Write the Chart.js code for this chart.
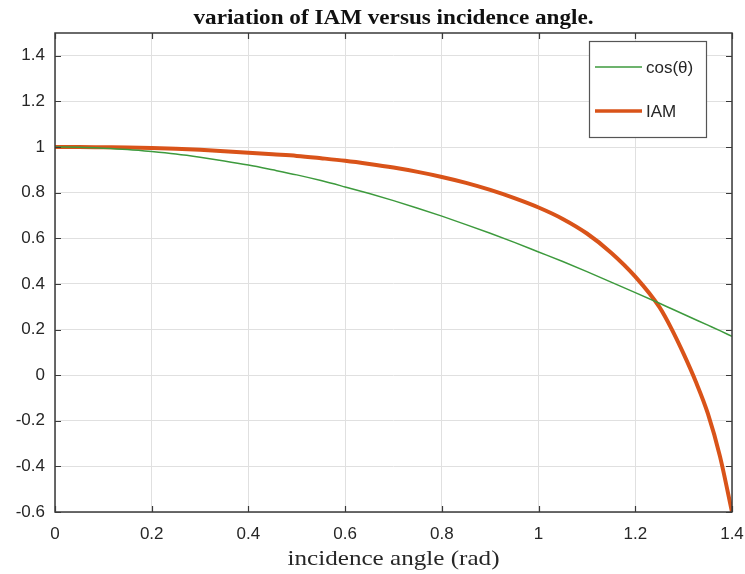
<!DOCTYPE html>
<html>
<head>
<meta charset="utf-8">
<script src="https://cdn.jsdelivr.net/npm/chart.js@4.4.1/dist/chart.umd.min.js"></script>
<style>
  html, body { margin: 0; padding: 0; background: #ffffff; }
  #wrap { width: 745px; height: 574px; position: relative; }
</style>
</head>
<body>
<div id="wrap"><canvas id="c" width="745" height="574"></canvas></div>
<script>
// ---- data ----
const chartTitle = "variation of IAM versus incidence angle.";
const xAxisTitle = "incidence angle (rad)";
const seriesNames = ["cos(θ)", "IAM"];
const angles = [0, 0.05, 0.1, 0.15, 0.2, 0.25, 0.3, 0.35, 0.4, 0.45, 0.5, 0.55, 0.6, 0.65, 0.7,
  0.75, 0.8, 0.85, 0.9, 0.95, 1.0, 1.05, 1.1, 1.15, 1.2, 1.25, 1.275, 1.3, 1.325, 1.35, 1.375, 1.4];
const cosValues = [1.000, 0.999, 0.995, 0.989, 0.980, 0.969, 0.955, 0.939, 0.921, 0.900, 0.878,
  0.853, 0.825, 0.796, 0.765, 0.732, 0.697, 0.660, 0.622, 0.582, 0.540, 0.498, 0.454, 0.408,
  0.362, 0.315, 0.291, 0.267, 0.243, 0.219, 0.195, 0.170];
const iamValues = [1.000, 1.000, 0.999, 0.998, 0.996, 0.993, 0.988, 0.982, 0.975, 0.968, 0.961,
  0.951, 0.940, 0.926, 0.910, 0.891, 0.869, 0.843, 0.812, 0.776, 0.735, 0.685, 0.621, 0.537,
  0.432, 0.298, 0.203, 0.093, -0.028, -0.168, -0.355, -0.600];
const xTicks = [0, 0.2, 0.4, 0.6, 0.8, 1.0, 1.2, 1.4];
const yTicks = [-0.6, -0.4, -0.2, 0, 0.2, 0.4, 0.6, 0.8, 1.0, 1.2, 1.4];
const xRange = [0, 1.4];
const yRange = [-0.6, 1.5];

// ---- styles ----
const GREEN = "#3d9a3d";
const ORANGE = "#d95319";
const AXIS = "#3a3a3a";
const TEXT = "#262626";
const GRID = "#e0e0e0";
const SANS = "'Liberation Sans', Arial, sans-serif";

const toPoints = (ys) => angles.map((a, i) => ({ x: a, y: ys[i] }));

function fitText(ctx, text, cx, y, targetWidth) {
  const w = ctx.measureText(text).width;
  const sx = targetWidth / w;
  ctx.save();
  ctx.translate(cx, y);
  ctx.scale(sx, 1);
  ctx.fillText(text, 0, 0);
  ctx.restore();
}

const framePlugin = {
  id: "frame",
  afterDraw(chart) {
    const { ctx, chartArea: a, scales } = chart;
    const xs = scales.x, ys = scales.y;
    ctx.save();
    // frame
    ctx.strokeStyle = AXIS;
    ctx.lineWidth = 1.5;
    ctx.strokeRect(a.left, a.top, a.right - a.left, a.bottom - a.top);
    // inward ticks on all four sides
    ctx.lineWidth = 1.2;
    const tl = 6;
    ctx.beginPath();
    xTicks.forEach(v => {
      const px = Math.round(xs.getPixelForValue(v)) + 0.5;
      ctx.moveTo(px, a.bottom); ctx.lineTo(px, a.bottom - tl);
      ctx.moveTo(px, a.top); ctx.lineTo(px, a.top + tl);
    });
    yTicks.forEach(v => {
      const py = Math.round(ys.getPixelForValue(v)) + 0.5;
      ctx.moveTo(a.left, py); ctx.lineTo(a.left + tl, py);
      ctx.moveTo(a.right, py); ctx.lineTo(a.right - tl, py);
    });
    ctx.stroke();

    // title
    const cx = (a.left + a.right) / 2;
    ctx.fillStyle = "#111";
    ctx.textAlign = "center";
    ctx.textBaseline = "alphabetic";
    ctx.font = "bold 20px 'Liberation Serif', 'DejaVu Serif', serif";
    fitText(ctx, chartTitle, cx, 24, 400);
    // x axis title
    ctx.fillStyle = TEXT;
    ctx.font = "22px 'Liberation Serif', 'DejaVu Serif', serif";
    fitText(ctx, xAxisTitle, cx, 565, 212);

    // legend
    const lx = 589, ly = 41, lw = 117, lh = 96;
    ctx.fillStyle = "#ffffff";
    ctx.fillRect(lx, ly, lw, lh);
    ctx.strokeStyle = "#555555";
    ctx.lineWidth = 1.2;
    ctx.strokeRect(lx + 0.5, ly + 0.5, lw, lh);
    const items = [
      { name: seriesNames[0], color: GREEN, w: 1.5, y: 67 },
      { name: seriesNames[1], color: ORANGE, w: 3.5, y: 111 }
    ];
    ctx.font = "17px " + SANS;
    ctx.textAlign = "left";
    ctx.textBaseline = "middle";
    items.forEach(it => {
      ctx.strokeStyle = it.color;
      ctx.lineWidth = it.w;
      ctx.beginPath();
      ctx.moveTo(595, it.y); ctx.lineTo(642, it.y);
      ctx.stroke();
      ctx.fillStyle = TEXT;
      ctx.fillText(it.name, 646, it.y + 1);
    });
    ctx.restore();
  }
};

new Chart(document.getElementById("c"), {
  type: "line",
  data: {
    datasets: [
      { label: seriesNames[0], data: toPoints(cosValues), borderColor: GREEN, borderWidth: 1.5,
        pointRadius: 0, cubicInterpolationMode: "monotone", fill: false },
      { label: seriesNames[1], data: toPoints(iamValues), borderColor: ORANGE, borderWidth: 4,
        pointRadius: 0, cubicInterpolationMode: "monotone", fill: false }
    ]
  },
  options: {
    responsive: false,
    animation: false,
    devicePixelRatio: 1,
    layout: { padding: { top: 33, right: 13, left: 0, bottom: 0 } },
    plugins: { legend: { display: false }, title: { display: false }, tooltip: { enabled: false } },
    scales: {
      x: {
        type: "linear", min: xRange[0], max: xRange[1],
        afterBuildTicks: (s) => { s.ticks = xTicks.map(v => ({ value: v })); },
        afterFit: (s) => { s.height = 62; s.paddingLeft = 0; s.paddingRight = 0; },
        grid: { color: GRID, lineWidth: 1, drawTicks: false },
        border: { display: false },
        ticks: { color: TEXT, padding: 12, maxRotation: 0,
          font: { family: SANS, size: 17 },
          callback: (v) => String(Math.round(v * 10) / 10) }
      },
      y: {
        type: "linear", min: yRange[0], max: yRange[1],
        afterBuildTicks: (s) => { s.ticks = yTicks.map(v => ({ value: v })); },
        afterFit: (s) => { s.width = 55; s.paddingTop = 0; s.paddingBottom = 0; },
        grid: { color: GRID, lineWidth: 1, drawTicks: false },
        border: { display: false },
        ticks: { color: TEXT, padding: 10,
          font: { family: SANS, size: 17 },
          callback: (v) => String(Math.round(v * 10) / 10) }
      }
    }
  },
  plugins: [framePlugin]
});
</script>
</body>
</html>
